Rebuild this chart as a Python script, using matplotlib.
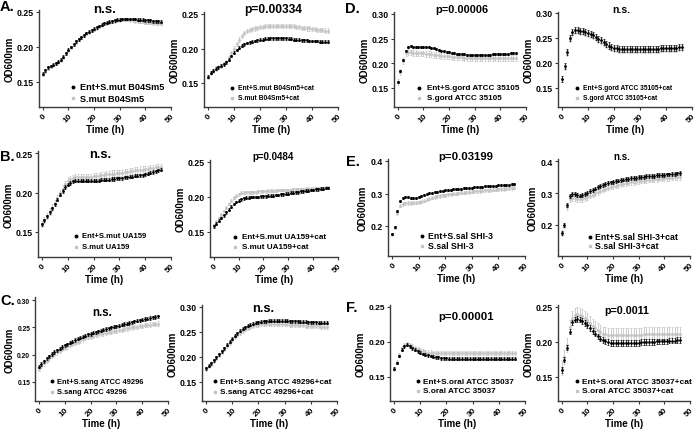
import matplotlib
matplotlib.use("Agg")
import matplotlib.pyplot as plt
from matplotlib.lines import Line2D

plt.rcParams['font.family'] = ['Liberation Sans', 'DejaVu Sans']
plt.rcParams['font.weight'] = 'bold'

time_h = list(range(47))
x_ticks = [0, 10, 20, 30, 40, 50]

# ---------------- data (OD600, t = 0..46 h) ----------------
A_ent = [0.162,0.167,0.171,0.173,0.175,0.177,0.179,0.182,0.186,0.191,
         0.196,0.200,0.204,0.208,0.211,0.214,0.217,0.220,0.222,0.224,
         0.226,0.228,0.230,0.232,0.234,0.235,0.236,0.237,0.238,0.239,
         0.239,0.240,0.240,0.240,0.240,0.240,0.240,0.239,0.239,0.239,
         0.238,0.238,0.238,0.237,0.237,0.237,0.236]
A_sm = [0.160,0.165,0.169,0.172,0.174,0.176,0.178,0.181,0.185,0.190,
        0.195,0.199,0.203,0.207,0.210,0.213,0.216,0.219,0.221,0.223,
        0.225,0.227,0.229,0.231,0.233,0.234,0.235,0.236,0.237,0.238,
        0.238,0.239,0.239,0.239,0.238,0.238,0.237,0.237,0.236,0.236,
        0.235,0.235,0.235,0.234,0.234,0.234,0.233]
A2_ent = [0.159,0.165,0.168,0.171,0.173,0.175,0.177,0.180,0.184,0.189,
          0.194,0.198,0.201,0.204,0.206,0.208,0.209,0.210,0.211,0.212,
          0.213,0.213,0.214,0.214,0.215,0.215,0.215,0.215,0.215,0.215,
          0.215,0.214,0.214,0.213,0.213,0.213,0.212,0.212,0.212,0.211,
          0.211,0.211,0.211,0.210,0.210,0.210,0.210]
A2_sm = [0.159,0.165,0.168,0.171,0.173,0.175,0.177,0.181,0.186,0.193,
         0.200,0.207,0.213,0.218,0.222,0.225,0.227,0.228,0.229,0.230,
         0.231,0.231,0.232,0.232,0.233,0.233,0.233,0.233,0.233,0.233,
         0.233,0.232,0.232,0.232,0.231,0.231,0.230,0.230,0.229,0.229,
         0.228,0.228,0.227,0.227,0.227,0.226,0.226]
D_ent = [0.163,0.185,0.207,0.226,0.233,0.235,0.234,0.233,0.233,0.233,
         0.234,0.234,0.233,0.232,0.231,0.229,0.228,0.226,0.225,0.223,
         0.222,0.221,0.220,0.219,0.219,0.218,0.218,0.217,0.217,0.217,
         0.217,0.217,0.217,0.217,0.217,0.217,0.217,0.218,0.218,0.218,
         0.219,0.219,0.219,0.219,0.220,0.220,0.220]
D_sm = [0.163,0.183,0.205,0.221,0.223,0.222,0.221,0.221,0.220,0.220,
        0.220,0.219,0.219,0.218,0.217,0.217,0.216,0.215,0.215,0.214,
        0.214,0.213,0.213,0.212,0.212,0.212,0.211,0.211,0.211,0.211,
        0.211,0.211,0.211,0.211,0.211,0.211,0.211,0.211,0.211,0.211,
        0.211,0.211,0.211,0.211,0.211,0.211,0.211]
D2_ent = [0.168,0.193,0.221,0.250,0.262,0.265,0.265,0.264,0.263,0.262,
          0.260,0.258,0.255,0.252,0.248,0.245,0.242,0.238,0.235,0.232,
          0.230,0.229,0.228,0.228,0.227,0.227,0.227,0.227,0.227,0.227,
          0.227,0.227,0.227,0.227,0.228,0.228,0.228,0.228,0.229,0.229,
          0.229,0.230,0.230,0.230,0.230,0.231,0.231]
D2_sm = [0.167,0.192,0.220,0.248,0.260,0.263,0.263,0.262,0.261,0.260,
         0.258,0.256,0.253,0.250,0.246,0.243,0.240,0.236,0.233,0.230,
         0.228,0.227,0.226,0.226,0.225,0.225,0.225,0.225,0.225,0.225,
         0.225,0.225,0.225,0.225,0.226,0.226,0.226,0.226,0.227,0.227,
         0.227,0.228,0.228,0.228,0.228,0.229,0.229]
B_ent = [0.160,0.165,0.170,0.175,0.180,0.185,0.191,0.197,0.202,0.207,
         0.210,0.212,0.214,0.215,0.215,0.215,0.215,0.215,0.215,0.215,
         0.215,0.215,0.215,0.216,0.216,0.216,0.216,0.217,0.217,0.218,
         0.218,0.218,0.219,0.219,0.220,0.220,0.221,0.221,0.222,0.222,
         0.223,0.224,0.225,0.226,0.227,0.228,0.229]
B_sm = [0.160,0.165,0.170,0.176,0.181,0.187,0.193,0.199,0.205,0.211,
        0.215,0.217,0.218,0.219,0.219,0.219,0.220,0.220,0.220,0.220,
        0.221,0.221,0.221,0.222,0.222,0.223,0.223,0.224,0.224,0.225,
        0.225,0.225,0.226,0.226,0.227,0.227,0.228,0.228,0.229,0.229,
        0.230,0.230,0.231,0.231,0.232,0.232,0.232]
B2_ent = [0.158,0.162,0.166,0.170,0.174,0.178,0.182,0.186,0.190,0.193,
          0.195,0.197,0.198,0.199,0.199,0.200,0.200,0.200,0.200,0.201,
          0.201,0.201,0.202,0.202,0.202,0.203,0.203,0.204,0.204,0.205,
          0.205,0.206,0.206,0.207,0.207,0.208,0.208,0.209,0.209,0.210,
          0.210,0.211,0.211,0.212,0.212,0.213,0.213]
B2_sm = [0.160,0.165,0.170,0.175,0.180,0.185,0.190,0.195,0.199,0.202,
         0.204,0.206,0.206,0.207,0.207,0.207,0.207,0.207,0.208,0.208,
         0.208,0.208,0.209,0.209,0.209,0.209,0.210,0.210,0.210,0.210,
         0.210,0.210,0.211,0.211,0.211,0.211,0.211,0.212,0.212,0.212,
         0.212,0.213,0.213,0.213,0.213,0.214,0.214]
E_ent = [0.175,0.197,0.245,0.276,0.285,0.288,0.288,0.287,0.287,0.287,
         0.289,0.292,0.295,0.298,0.301,0.303,0.305,0.306,0.307,0.308,
         0.310,0.311,0.312,0.313,0.314,0.315,0.315,0.316,0.317,0.317,
         0.318,0.319,0.320,0.320,0.321,0.322,0.322,0.323,0.324,0.324,
         0.325,0.325,0.326,0.327,0.327,0.328,0.329]
E_sm = [0.175,0.195,0.240,0.263,0.268,0.270,0.271,0.271,0.272,0.272,
        0.273,0.275,0.278,0.281,0.284,0.287,0.289,0.291,0.292,0.294,
        0.295,0.297,0.298,0.299,0.300,0.301,0.302,0.303,0.304,0.305,
        0.306,0.307,0.307,0.308,0.309,0.310,0.310,0.311,0.312,0.312,
        0.313,0.314,0.314,0.315,0.316,0.317,0.318]
E2_ent = [0.175,0.200,0.262,0.290,0.297,0.296,0.294,0.292,0.294,0.297,
          0.301,0.305,0.310,0.314,0.318,0.322,0.325,0.328,0.331,0.333,
          0.335,0.337,0.339,0.340,0.342,0.343,0.344,0.346,0.347,0.348,
          0.349,0.350,0.351,0.352,0.353,0.354,0.354,0.355,0.356,0.356,
          0.357,0.358,0.358,0.359,0.360,0.361,0.362]
E2_sm = [0.175,0.198,0.255,0.280,0.284,0.283,0.281,0.280,0.281,0.284,
         0.287,0.291,0.295,0.299,0.303,0.307,0.310,0.313,0.316,0.319,
         0.321,0.323,0.325,0.327,0.329,0.330,0.332,0.333,0.334,0.335,
         0.337,0.338,0.339,0.340,0.341,0.342,0.343,0.343,0.344,0.345,
         0.346,0.346,0.347,0.348,0.349,0.349,0.350]
C_ent = [0.178,0.183,0.188,0.193,0.197,0.201,0.205,0.208,0.211,0.214,
         0.217,0.219,0.222,0.224,0.227,0.229,0.231,0.233,0.235,0.237,
         0.238,0.240,0.241,0.243,0.244,0.246,0.247,0.248,0.250,0.251,
         0.252,0.253,0.255,0.256,0.257,0.258,0.259,0.261,0.262,0.263,
         0.264,0.265,0.266,0.267,0.268,0.269,0.270]
C_sm = [0.174,0.179,0.184,0.189,0.193,0.197,0.201,0.204,0.207,0.210,
        0.213,0.215,0.218,0.220,0.222,0.224,0.226,0.228,0.230,0.232,
        0.233,0.234,0.236,0.237,0.238,0.239,0.240,0.241,0.242,0.243,
        0.244,0.245,0.246,0.247,0.248,0.249,0.250,0.251,0.251,0.252,
        0.253,0.254,0.254,0.255,0.256,0.256,0.257]
C2_ent = [0.178,0.183,0.188,0.194,0.200,0.206,0.212,0.218,0.225,0.231,
          0.237,0.243,0.248,0.253,0.257,0.260,0.263,0.265,0.267,0.269,
          0.270,0.271,0.272,0.272,0.273,0.273,0.273,0.273,0.273,0.273,
          0.273,0.273,0.272,0.272,0.272,0.272,0.271,0.271,0.271,0.270,
          0.270,0.270,0.270,0.269,0.269,0.269,0.269]
C2_sm = [0.177,0.182,0.187,0.193,0.199,0.205,0.211,0.217,0.223,0.229,
         0.235,0.240,0.245,0.249,0.253,0.256,0.259,0.261,0.263,0.264,
         0.265,0.266,0.266,0.267,0.267,0.267,0.267,0.267,0.266,0.266,
         0.266,0.266,0.265,0.265,0.265,0.264,0.264,0.264,0.263,0.263,
         0.263,0.262,0.262,0.262,0.261,0.261,0.261]
F_ent = [0.162,0.170,0.180,0.189,0.194,0.196,0.194,0.191,0.189,0.187,
         0.185,0.183,0.182,0.181,0.180,0.179,0.178,0.178,0.177,0.177,
         0.177,0.176,0.176,0.176,0.176,0.176,0.176,0.176,0.176,0.176,
         0.176,0.176,0.176,0.176,0.176,0.176,0.176,0.176,0.176,0.176,
         0.176,0.176,0.176,0.176,0.176,0.176,0.176]
F_sm = [0.162,0.171,0.181,0.191,0.196,0.197,0.196,0.194,0.192,0.190,
        0.188,0.187,0.186,0.185,0.185,0.184,0.184,0.184,0.184,0.184,
        0.184,0.184,0.184,0.184,0.184,0.184,0.184,0.184,0.184,0.184,
        0.184,0.184,0.184,0.184,0.184,0.184,0.184,0.184,0.184,0.184,
        0.184,0.184,0.184,0.184,0.184,0.184,0.184]
F2_ent = [0.160,0.175,0.192,0.215,0.228,0.232,0.233,0.232,0.230,0.227,
          0.224,0.220,0.216,0.212,0.208,0.205,0.203,0.201,0.200,0.199,
          0.199,0.199,0.199,0.199,0.199,0.199,0.199,0.199,0.199,0.199,
          0.199,0.200,0.200,0.200,0.200,0.200,0.200,0.201,0.201,0.201,
          0.201,0.201,0.202,0.202,0.202,0.203,0.203]
F2_sm = [0.163,0.178,0.196,0.221,0.235,0.239,0.240,0.239,0.237,0.234,
         0.231,0.227,0.223,0.220,0.217,0.214,0.212,0.211,0.210,0.210,
         0.210,0.210,0.210,0.210,0.210,0.210,0.210,0.210,0.210,0.210,
         0.210,0.210,0.211,0.211,0.211,0.211,0.211,0.211,0.211,0.211,
         0.212,0.212,0.212,0.212,0.212,0.212,0.212]

# estimated error-bar half-heights (ent, alone)
A_err = (0.002, 0.002)
A2_err = (0.002, 0.003)
D_err = (0.002, 0.006)
D2_err = (0.006, 0.006)
B_err = (0.002, 0.004)
B2_err = (0.002, 0.002)
E_err = (0.003, 0.005)
E2_err = (0.006, 0.008)
C_err = (0.003, 0.004)
C2_err = (0.003, 0.004)
F_err = (0.002, 0.003)
F2_err = (0.004, 0.010)

titles = ["n.s.", "p=0.00334", "p=0.00006", "n.s.",
          "n.s.", "p=0.0484", "p=0.03199", "n.s.",
          "n.s.", "n.s.", "p=0.00001", "p=0.0011"]
labels_ent = ["Ent+S.mut B04Sm5", "Ent+S.mut B04Sm5+cat", "Ent+S.gord ATCC 35105", "Ent+S.gord ATCC 35105+cat",
              "Ent+S.mut UA159", "Ent+S.mut UA159+cat", "Ent+S.sal SHI-3", "Ent+S.sal SHI-3+cat",
              "Ent+S.sang ATCC 49296", "Ent+S.sang ATCC 49296+cat", "Ent+S.oral ATCC 35037", "Ent+S.oral ATCC 35037+cat"]
labels_sm = ["S.mut B04Sm5", "S.mut B04Sm5+cat", "S.gord ATCC 35105", "S.gord ATCC 35105+cat",
             "S.mut UA159", "S.mut UA159+cat", "S.sal SHI-3", "S.sal SHI-3+cat",
             "S.sang ATCC 49296", "S.sang ATCC 49296+cat", "S.oral ATCC 35037", "S.oral ATCC 35037+cat"]
panel_letters = ["A.", None, "D.", None, "B.", None, "E.", None, "C.", None, "F.", None]
series = [(A_ent, A_sm, A_err), (A2_ent, A2_sm, A2_err), (D_ent, D_sm, D_err), (D2_ent, D2_sm, D2_err),
          (B_ent, B_sm, B_err), (B2_ent, B2_sm, B2_err), (E_ent, E_sm, E_err), (E2_ent, E2_sm, E2_err),
          (C_ent, C_sm, C_err), (C2_ent, C2_sm, C2_err), (F_ent, F_sm, F_err), (F2_ent, F2_sm, F2_err)]
y_ticks = [[0.15, 0.20, 0.25], [0.15, 0.20, 0.25], [0.15, 0.20, 0.25, 0.30], [0.15, 0.20, 0.25, 0.30],
           [0.15, 0.20, 0.25], [0.15, 0.20, 0.25], [0.2, 0.3, 0.4], [0.2, 0.3, 0.4],
           [0.15, 0.20, 0.25, 0.30], [0.15, 0.20, 0.25, 0.30], [0.15, 0.20, 0.25], [0.15, 0.20, 0.25]]
y_fmt = ["%.2f"] * 6 + ["%.1f", "%.1f"] + ["%.2f"] * 4

# ---------------- layout (pixels) ----------------
W, H = 696, 431
# x-left, x-right, (val1, px1), (val2, px2), spine top, spine bottom
layout = [
    (39, 171, (0.15, 83), (0.25, 13), 11, 108),
    (204, 338, (0.15, 84), (0.25, 15), 13, 108),
    (394, 526, (0.15, 89), (0.30, 15), 13, 108),
    (558, 692, (0.15, 89), (0.30, 14), 13, 108),
    (38, 171, (0.15, 233), (0.25, 154), 152, 258),
    (210, 338, (0.15, 233), (0.25, 163), 161, 258),
    (388, 525, (0.2, 227), (0.4, 162), 160, 257),
    (558, 690, (0.2, 226), (0.4, 162), 160, 257),
    (35, 168, (0.15, 383), (0.30, 301), 298, 402),
    (202, 337, (0.15, 383), (0.30, 308), 306, 402),
    (390, 525, (0.15, 378), (0.25, 308), 306, 402),
    (558, 690, (0.15, 378), (0.25, 308), 306, 402),
]
ytick_fs = [6.3, 6.3, 6.3, 6.3, 6.3, 6.3, 6.3, 6.3, 4.8, 6.3, 6.0, 6.3]
# title centre (px) and target width (px)
title_pos = [(105, 10, 23), (273, 10, 58), (462, 10, 53), (621, 10, 18),
             (100, 155, 22), (273, 157, 42), (466, 157, 55), (622, 157, 17),
             (102, 313, 20), (263, 309, 22), (466, 317, 55), (627, 311, 45)]
# legend: marker x, text x, row1 y, row2 y, target width of first label (px)
legend_pos = [(73, 80, 88, 99, 85), (232, 238, 89, 99, 77), (419, 427, 89, 99, 93), (577, 583, 89, 99, 90),
              (76, 82, 237, 248, 65), (235, 242, 238, 248, 85), (422, 428, 237, 247, 65), (590, 595, 238, 247, 83),
              (52, 57, 382, 393, 88), (215, 220, 382, 393, 113), (418, 423, 382, 392, 92), (577, 582, 382, 392, 110)]
letter_pos = [(0, 7), None, (345, 9), None, (0, 157), None, (346, 162), None, (0, 301), None, (346, 308), None]

fig = plt.figure(figsize=(W / 100, H / 100), dpi=100)
renderer = fig.canvas.get_renderer()
grey = '#c4c4c4'
spine_c = '#3a3a3a'


def fx(px):
    return px / W


def fy(py):
    return 1 - py / H


def fit(txt, target):
    w = txt.get_window_extent(renderer).width
    if w > 0:
        txt.set_fontsize(txt.get_fontsize() * target / w)
    return txt.get_fontsize()


for i in range(12):
    xl, xr, (v1, p1), (v2, p2), st, sb = layout[i]
    scale = (v2 - v1) / (p1 - p2)
    ylo = v1 - (sb - p1) * scale
    yhi = v2 + (p2 - st) * scale
    ax = fig.add_axes([fx(xl), fy(sb), (xr - xl) / W, (sb - st) / H])
    ent, sm, err = series[i]
    ax.errorbar(time_h, sm, yerr=err[1], fmt='s', ms=1.0, color=grey, ecolor=grey,
                elinewidth=0.55, capsize=0.8, capthick=0.5, zorder=2)
    ax.errorbar(time_h, ent, yerr=err[0], fmt='o', ms=1.0, color='black', ecolor='black',
                elinewidth=0.5, capsize=0.8, capthick=0.5, zorder=3)
    ax.set_xlim(-1.5, 50)
    ax.set_ylim(ylo, yhi)
    ax.set_xticks(x_ticks)
    ax.set_xticklabels([str(v) for v in x_ticks], rotation=45, ha='right',
                       rotation_mode='anchor', fontsize=6, fontweight='bold')
    ax.set_yticks(y_ticks[i])
    ax.set_yticklabels([y_fmt[i] % v for v in y_ticks[i]], fontsize=ytick_fs[i], fontweight='bold')
    for s in ['top', 'right']:
        ax.spines[s].set_visible(False)
    for s in ['left', 'bottom']:
        ax.spines[s].set_color(spine_c)
        ax.spines[s].set_linewidth(1.0)
    ax.tick_params(axis='both', length=2, width=0.8, color=spine_c, pad=1.5)
    ax.set_xlabel("Time (h)", fontsize=7, fontweight='bold', labelpad=0)
    ax.set_ylabel("OD600nm", fontsize=7, fontweight='bold', labelpad=2)

    tx, ty, tw = title_pos[i]
    t = fig.text(fx(tx), fy(ty), titles[i], fontsize=9, fontweight='bold', ha='center', va='center')
    fit(t, tw)

    mx, lx, y1, y2, lw = legend_pos[i]
    fig.add_artist(Line2D([fx(mx)], [fy(y1)], marker='o', ms=1.8, ls='none', color='black',
                          transform=fig.transFigure))
    fig.add_artist(Line2D([fx(mx)], [fy(y2)], marker='s', ms=1.8, ls='none', color=grey,
                          transform=fig.transFigure))
    t1 = fig.text(fx(lx), fy(y1), labels_ent[i], fontsize=6, fontweight='bold', ha='left', va='center')
    fs = fit(t1, lw)
    fig.text(fx(lx), fy(y2), labels_sm[i], fontsize=fs, fontweight='bold', ha='left', va='center')

    if letter_pos[i]:
        lx0, ly0 = letter_pos[i]
        fig.text(fx(lx0), fy(ly0), panel_letters[i], fontsize=10.5, fontweight='bold',
                 ha='left', va='center')

fig.savefig("out.png", dpi=100)
